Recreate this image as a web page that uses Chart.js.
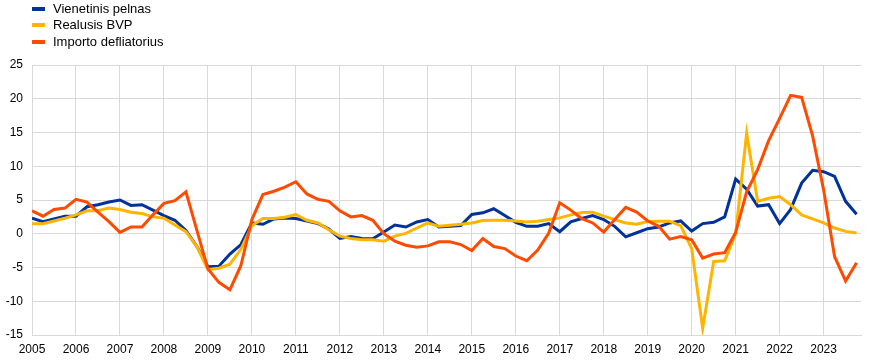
<!DOCTYPE html>
<html>
<head>
<meta charset="utf-8">
<script src="https://cdn.jsdelivr.net/npm/chart.js@4/dist/chart.umd.min.js"></script>
<style>
  html, body { margin: 0; padding: 0; background: #fff; }
  #wrap { position: relative; width: 873px; height: 360px; font-family: "Liberation Sans", Arial, sans-serif; }
  #legend { position: absolute; left: 0; top: 0; }
  .item { position: absolute; left: 32px; height: 16px; white-space: nowrap; font-size: 13px; color: #000; line-height: 16px; }
  .box { position: absolute; left: 0; top: 6px; width: 13px; height: 4px; }
  .lab { position: absolute; left: 21px; top: 0; }
  canvas { position: absolute; left: 0; top: 0; }
</style>
</head>
<body>
<div id="wrap">
  <canvas id="c" width="873" height="360"></canvas>
  <div id="legend"></div>
</div>
<script>
// ---- data (quarterly, 2005 Q1 .. 2023 Q4) ----
const startYear = 2005;
const yearLabels = ["2005","2006","2007","2008","2009","2010","2011","2012","2013","2014","2015","2016","2017","2018","2019","2020","2021","2022","2023"];
const seriesNames = ["Vienetinis pelnas", "Realusis BVP", "Importo defliatorius"];
const seriesColors = ["#003299", "#FFB400", "#FF4B00"];

const unitProfits = [
  2.3, 1.8, 2.2, 2.6,   2.6, 4.0, 4.3, 4.7,   5.0, 4.2, 4.3, 3.5,   2.7, 2.0, 0.5, -1.9,
  -4.9, -4.8, -3.0, -1.6,   1.6, 1.4, 2.2, 2.35,   2.25, 1.9, 1.5, 0.7,   -0.7, -0.4, -0.7, -0.75,
  0.25, 1.3, 1.0, 1.75,   2.1, 1.0, 1.1, 1.2,   2.85, 3.1, 3.7, 2.7,   1.7, 1.1, 1.1, 1.5,
  0.3, 1.75, 2.25, 2.7,   2.1, 1.1, -0.45, 0.15,   0.75, 1.0, 1.6, 1.9,   0.4, 1.5, 1.7, 2.5,
  8.1, 6.6, 4.1, 4.3,   1.5, 3.6, 7.5, 9.4,   9.2, 8.5, 4.8, 2.9
];
const realGdp = [
  1.5, 1.5, 1.9, 2.3,   2.8, 3.4, 3.4, 3.8,   3.6, 3.2, 3.0, 2.5,   2.3, 1.3, 0.3, -1.9,
  -5.3, -5.1, -4.5, -2.3,   1.2, 2.25, 2.25, 2.45,   2.85, 2.0, 1.6, 0.6,   -0.35, -0.7, -0.9, -0.9,
  -1.1, -0.35, 0.05, 0.85,   1.6, 1.1, 1.25, 1.4,   1.6, 1.95, 2.0, 2.0,   1.9, 1.75, 1.85, 2.1,
  2.35, 2.8, 3.15, 3.2,   2.6, 2.1, 1.6, 1.4,   1.8, 1.85, 1.85, 1.2,   -2.2, -14.0, -4.1, -4.0,
  0.0, 14.9, 4.8, 5.25,   5.5, 4.3, 2.8, 2.2,   1.6, 0.85, 0.35, 0.1
];
const importDeflator = [
  3.4, 2.6, 3.6, 3.8,   5.1, 4.7, 3.2, 1.8,   0.2, 1.0, 1.0, 2.8,   4.5, 4.9, 6.2, 0.5,
  -5.2, -7.2, -8.3, -4.7,   2.1, 5.8, 6.3, 6.9,   7.7, 5.9, 5.1, 4.8,   3.4, 2.5, 2.7, 2.0,
  0.0, -1.1, -1.7, -2.0,   -1.8, -1.2, -1.2, -1.6,   -2.5, -0.7, -1.9, -2.2,   -3.3, -4.0, -2.4, 0.1,
  4.6, 3.5, 2.25, 1.6,   0.25, 2.1, 3.9, 3.2,   1.9, 1.1, -0.8, -0.4,   -0.9, -3.6, -3.0, -2.8,
  0.2, 6.2, 9.5, 13.8,   17.1, 20.5, 20.2, 14.5,   6.5, -3.4, -7.0, -4.3
];
const yTicks = [-15, -10, -5, 0, 5, 10, 15, 20, 25];

// ---- legend (HTML) ----
const legendTops = [0.5, 16.5, 33.5];
const legendEl = document.getElementById('legend');
seriesNames.forEach((n, k) => {
  const it = document.createElement('div');
  it.className = 'item';
  it.style.top = legendTops[k] + 'px';
  const b = document.createElement('div');
  b.className = 'box';
  b.style.background = seriesColors[k];
  const l = document.createElement('div');
  l.className = 'lab';
  l.textContent = n;
  it.appendChild(b); it.appendChild(l);
  legendEl.appendChild(it);
});

// ---- chart ----
const toXY = arr => arr.map((v, i) => ({x: i, y: v}));
const gridColor = '#d9d9d9';
const font = {family: '"Liberation Sans", Arial, sans-serif', size: 12};

new Chart(document.getElementById('c'), {
  type: 'line',
  data: {
    datasets: [
      {label: seriesNames[0], data: toXY(unitProfits), borderColor: seriesColors[0], backgroundColor: seriesColors[0], order: 2},
      {label: seriesNames[1], data: toXY(realGdp), borderColor: seriesColors[1], backgroundColor: seriesColors[1], order: 1},
      {label: seriesNames[2], data: toXY(importDeflator), borderColor: seriesColors[2], backgroundColor: seriesColors[2], order: 0}
    ]
  },
  options: {
    responsive: false,
    animation: false,
    events: [],
    layout: {padding: {left: 0, right: 12, top: 65, bottom: 0}},
    elements: {
      line: {borderWidth: 3, tension: 0, borderJoinStyle: 'miter', borderCapStyle: 'butt'},
      point: {radius: 0}
    },
    plugins: {legend: {display: false}, tooltip: {enabled: false}},
    scales: {
      x: {
        type: 'linear',
        min: 0,
        max: 75.4,
        afterBuildTicks: s => { s.ticks = yearLabels.map((y, k) => ({value: k * 4})); },
        afterFit: s => { s.height = 25; },
        ticks: {
          autoSkip: false, maxRotation: 0, padding: 7, color: '#000', font,
          callback: v => yearLabels[Math.round(v / 4)]
        },
        grid: {color: gridColor, lineWidth: 1, drawTicks: false},
        border: {color: gridColor, width: 1}
      },
      y: {
        min: -15,
        max: 25,
        afterBuildTicks: s => { s.ticks = yTicks.map(v => ({value: v})); },
        afterFit: s => { s.width = 32; },
        ticks: {padding: 9, color: '#000', font, callback: v => String(v)},
        grid: {color: gridColor, lineWidth: 1, drawTicks: false},
        border: {color: gridColor, width: 1}
      }
    }
  }
});
</script>
</body>
</html>
